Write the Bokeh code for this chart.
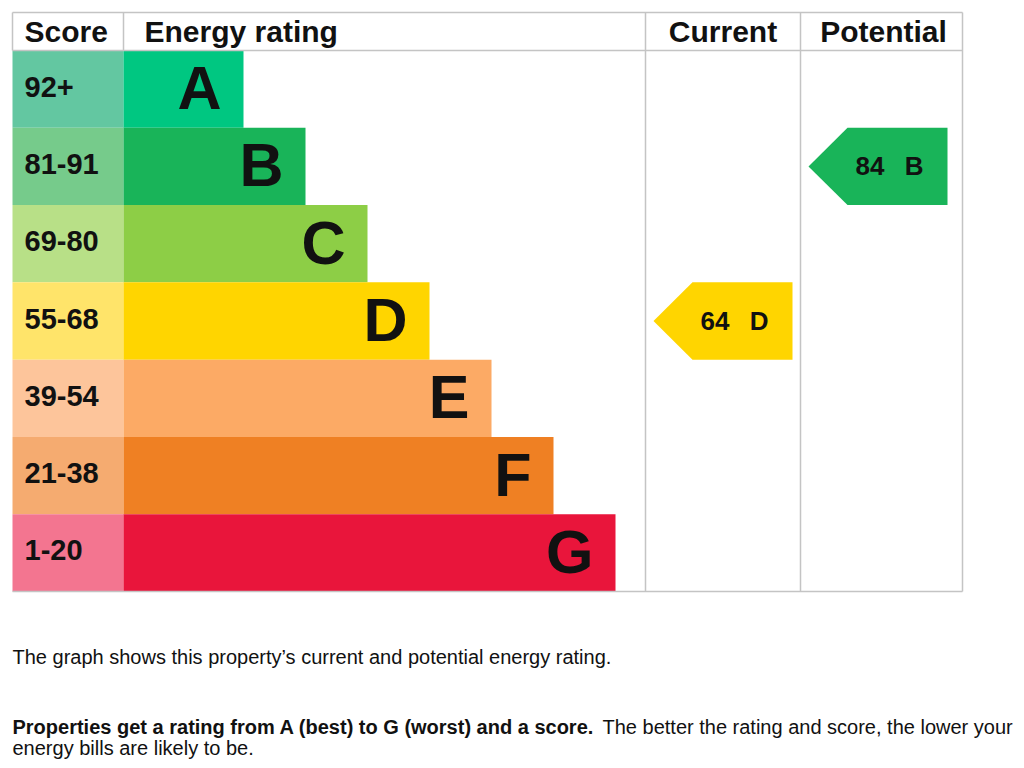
from bokeh.plotting import figure
from bokeh.models import Range1d
from bokeh.core.properties import value
from bokeh.embed import file_html
from bokeh.resources import INLINE

# ---------------- data ----------------
ratings = ["A", "B", "C", "D", "E", "F", "G"]
score_bands = ["92+", "81-91", "69-80", "55-68", "39-54", "21-38", "1-20"]
band_min = [92, 81, 69, 55, 39, 21, 1]
bar_colors = ["#00c781", "#19b459", "#8dce46", "#ffd500", "#fcaa65", "#ef8023", "#e9153b"]
score_colors = ["#63c7a1", "#76cb8b", "#b8e087", "#ffe46a", "#fdc59b", "#f5ab70", "#f37590"]
headers = ["Score", "Energy rating", "Current", "Potential"]
current_score = 64
potential_score = 84
caption1 = "The graph shows this property\u2019s current and potential energy rating."
caption2_bold = "Properties get a rating from A (best) to G (worst) and a score."
caption2_rest = "The better the rating and score, the lower your"
caption3 = "energy bills are likely to be."

# ---------------- layout ----------------
W, H = 1024, 768
LEFT, SCORE_R, CUR_L, POT_L, RIGHT = 12, 123, 645, 800, 962
TOP, HEAD_B, BOTTOM = 12, 50, 591
ROW_H = (BOTTOM - HEAD_B) / len(ratings)
FONT = value("Liberation Sans")
GRID = "#c4c4c4"
INK = "#111111"

p = figure(width=W, height=H, x_range=Range1d(0, W), y_range=Range1d(H, 0),
           output_backend="svg", toolbar_location=None, min_border=0)
p.axis.visible = False
p.grid.visible = False
p.outline_line_color = None
p.background_fill_color = "white"
p.border_fill_color = "white"

n = len(ratings)
tops = [HEAD_B + i * ROW_H for i in range(n)]
bots = [t + ROW_H for t in tops]
mids = [t + ROW_H / 2 for t in tops]
bar_right = [SCORE_R + 120 + 62 * i for i in range(n)]

# score cells and bars
p.quad(left=[LEFT] * n, right=[SCORE_R] * n, top=tops, bottom=bots,
       fill_color=score_colors, line_color=None)
p.quad(left=[SCORE_R] * n, right=bar_right, top=tops, bottom=bots,
       fill_color=bar_colors, line_color=None)

# grid lines
x0 = [LEFT, LEFT, LEFT, LEFT, SCORE_R, CUR_L, POT_L, RIGHT]
x1 = [RIGHT, RIGHT, RIGHT, LEFT, SCORE_R, CUR_L, POT_L, RIGHT]
y0 = [TOP, HEAD_B, BOTTOM, TOP, TOP, TOP, TOP, TOP]
y1 = [TOP, HEAD_B, BOTTOM, HEAD_B, HEAD_B, BOTTOM, BOTTOM, BOTTOM]
p.segment(x0=x0, y0=y0, x1=x1, y1=y1, line_color=GRID, line_width=1.5)

# headers
p.text(x=[LEFT + 12, SCORE_R + 21], y=[31] * 2, text=headers[:2],
       text_font=FONT, text_font_style="bold", text_font_size="30px",
       text_baseline="middle", text_align="left", text_color=INK)
p.text(x=[(CUR_L + POT_L) / 2, (POT_L + RIGHT) / 2 + 2], y=[31] * 2,
       text=headers[2:], text_font=FONT, text_font_style="bold", text_font_size="30px",
       text_baseline="middle", text_align="center", text_color=INK)

# score labels
p.text(x=[LEFT + 12] * n, y=[m - 2.5 for m in mids], text=score_bands, text_font=FONT,
       text_font_style="bold", text_font_size="29px", text_baseline="middle",
       text_align="left", text_color=INK)

# rating letters
p.text(x=[r - 22 for r in bar_right], y=[m - 1 for m in mids], text=ratings, text_font=FONT,
       text_font_style="bold", text_font_size="61px", text_baseline="middle",
       text_align="right", text_color=INK)


def band_of(score):
    for i, b in enumerate(band_min):
        if score >= b:
            return i
    return n - 1


def arrow(col_left, score):
    i = band_of(score)
    t, b, m = tops[i], bots[i], mids[i]
    tip, body, right = col_left + 8, col_left + 47, col_left + 147
    xs = [tip, body, right, right, body]
    ys = [m, t, t, b, b]
    p.patch(xs, ys, fill_color=bar_colors[i], line_color=None)
    p.text(x=[right - 63], y=[m - 0.5], text=[str(score)], text_font=FONT,
           text_font_style="bold", text_font_size="26px", text_baseline="middle",
           text_align="right", text_color=INK)
    p.text(x=[right - 24], y=[m - 0.5], text=[ratings[i]], text_font=FONT,
           text_font_style="bold", text_font_size="26px", text_baseline="middle",
           text_align="right", text_color=INK)


arrow(CUR_L, current_score)
arrow(POT_L, potential_score)

# captions
p.text(x=[12], y=[656], text=[caption1], text_font=FONT, text_font_size="20px",
       text_baseline="middle", text_align="left", text_color=INK)
p.text(x=[12], y=[726], text=[caption2_bold], text_font=FONT, text_font_style="bold",
       text_font_size="20px", text_baseline="middle", text_align="left", text_color=INK)
p.text(x=[602], y=[726], text=[caption2_rest], text_font=FONT,
       text_font_size="20px", text_baseline="middle", text_align="left", text_color=INK)
p.text(x=[12], y=[747], text=[caption3], text_font=FONT, text_font_size="20px",
       text_baseline="middle", text_align="left", text_color=INK)

open("out.html", "w").write(file_html(p, INLINE))
